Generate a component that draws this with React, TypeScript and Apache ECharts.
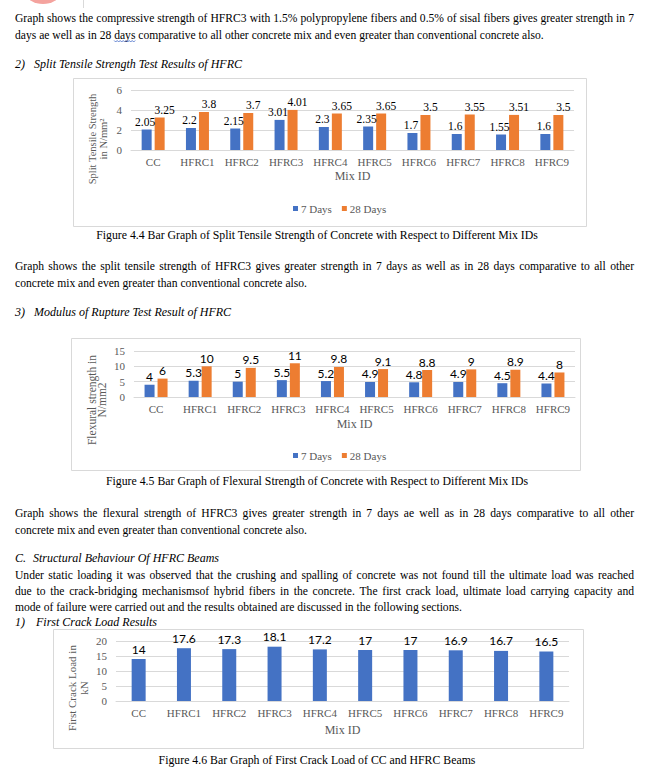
import React, { useEffect, useRef } from "react";
import * as echarts from "echarts";

// ---------- data ----------
const categories = ["CC", "HFRC1", "HFRC2", "HFRC3", "HFRC4", "HFRC5", "HFRC6", "HFRC7", "HFRC8", "HFRC9"];
const seriesNames = ["7 Days", "28 Days"];
const splitTensile7 = [2.05, 2.2, 2.15, 3.01, 2.3, 2.35, 1.7, 1.6, 1.55, 1.6];
const splitTensile28 = [3.25, 3.8, 3.7, 4.01, 3.65, 3.65, 3.5, 3.55, 3.51, 3.5];
const flexural7 = [4, 5.3, 5, 5.5, 5.2, 4.9, 4.8, 4.9, 4.5, 4.4];
const flexural28 = [6, 10, 9.5, 11, 9.8, 9.1, 8.8, 9, 8.9, 8];
const firstCrack = [14, 17.6, 17.3, 18.1, 17.2, 17, 17, 16.9, 16.7, 16.5];

// ---------- document text ----------
const para1 = [
  "Graph shows the compressive strength of HFRC3 with 1.5% polypropylene fibers and 0.5% of sisal fibers gives greater strength in 7",
  "days ae well as in 28 days comparative to all other concrete mix and even greater than conventional concrete also.",
];
const para2 = [
  "Graph shows the split tensile strength of HFRC3 gives greater strength in 7 days as well as in 28 days comparative to all other",
  "concrete mix and even greater than conventional concrete also.",
];
const para3 = [
  "Graph shows the flexural strength of HFRC3 gives greater strength in 7 days ae well as in 28 days comparative to all other",
  "concrete mix and even greater than conventional concrete also.",
];
const para4 = [
  "Under static loading it was observed that the crushing and spalling of concrete was not found till the ultimate load was reached",
  "due to the crack-bridging mechanismsof hybrid fibers in the concrete. The first crack load, ultimate load carrying capacity and",
  "mode of failure were carried out and the results obtained are discussed in the following sections.",
];
const headings = [
  { num: "2)", title: "Split Tensile Strength Test Results of HFRC" },
  { num: "3)", title: "Modulus of Rupture Test Result of HFRC" },
  { num: "C.", title: "Structural Behaviour Of HFRC Beams" },
  { num: "1)", title: "First Crack Load Results" },
];
const captions = [
  "Figure 4.4 Bar Graph of Split Tensile Strength of Concrete with Respect to Different Mix IDs",
  "Figure 4.5 Bar Graph of Flexural Strength of Concrete with Respect to Different Mix IDs",
  "Figure 4.6 Bar Graph of First Crack Load of CC and HFRC Beams",
];
const yAxisNames = [
  "Split Tensile Strength\nin N/mm\u00B2",
  "Flexural strength in\nN/mm2",
  "First Crack Load in\nkN",
];
const xAxisName = "Mix ID";

const SERIF = '"Liberation Serif", "Times New Roman", serif';
const SANS = 'Lato, "Liberation Sans", sans-serif';
const BODY = 11.6;
const HEAD = 12;
const LEFT = 15;
const RIGHT = 634;
const BLUE = "#4472C4";
const ORANGE = "#ED7D31";
const GRID = "#d9d9d9";
const AXIS_TEXT = "#595959";

let ctx: CanvasRenderingContext2D | null = null;
function measure(text: string, size: number, italic = false) {
  if (!ctx) ctx = document.createElement("canvas").getContext("2d");
  ctx!.font = `${italic ? "italic " : ""}${size}px "Liberation Serif"`;
  return ctx!.measureText(text).width;
}

function textEl(text: string, x: number, y: number, opts: any = {}) {
  return {
    type: "text",
    silent: true,
    x,
    y,
    rotation: opts.rotation || 0,
    style: {
      text,
      fill: opts.fill || "#000",
      fontFamily: opts.fontFamily || SERIF,
      fontSize: opts.fontSize || BODY,
      fontStyle: opts.italic ? "italic" : "normal",
      align: opts.align || "left",
      verticalAlign: "middle",
      lineHeight: opts.lineHeight,
    },
  };
}

function lineEls(text: string, y: number, justify: boolean) {
  if (!justify) return [textEl(text, LEFT, y)];
  const words = text.split(" ");
  const widths = words.map((w) => measure(w, BODY));
  const total = widths.reduce((a, b) => a + b, 0);
  const gap = (RIGHT - LEFT - total) / (words.length - 1);
  let x = LEFT;
  return words.map((w, i) => {
    const el = textEl(w, x, y);
    x += widths[i] + gap;
    return el;
  });
}

function paraEls(lines: string[], ys: number[], justifyCount: number) {
  const out: any[] = [];
  lines.forEach((l, i) => out.push(...lineEls(l, ys[i], i < justifyCount)));
  return out;
}

function headingEls(h: { num: string; title: string }, y: number, titleX: number) {
  return [
    textEl(h.num, LEFT, y, { italic: true, fontSize: HEAD }),
    textEl(h.title, titleX, y, { italic: true, fontSize: HEAD }),
  ];
}

function boxEl(x0: number, y0: number, x1: number, y1: number) {
  return {
    type: "rect",
    silent: true,
    shape: { x: x0 + 0.5, y: y0 + 0.5, width: x1 - x0, height: y1 - y0 },
    style: { fill: "none", stroke: GRID, lineWidth: 1 },
  };
}

function squiggle(x0: number, x1: number, y: number) {
  const pts: number[][] = [];
  let up = true;
  for (let x = x0; x <= x1; x += 1.5) {
    pts.push([x, up ? y : y + 1.5]);
    up = !up;
  }
  return { type: "polyline", silent: true, shape: { points: pts }, style: { stroke: "#3a62c4", lineWidth: 0.8, fill: "none" } };
}

function buildGraphic() {
  const els: any[] = [];
  // top-left decoration
  els.push({ type: "circle", silent: true, shape: { cx: 43, cy: -20, r: 24 }, style: { fill: "#f4a39e" } });
  els.push({ type: "line", silent: true, shape: { x1: 83.5, y1: 0, x2: 83.5, y2: 8 }, style: { stroke: GRID } });

  els.push(...paraEls(para1, [18, 35], 1));
  // spell-check squiggle under second "days"
  const pre = measure("days ae well as in 28 ", BODY);
  const dw = measure("days", BODY);
  els.push(squiggle(LEFT + pre, LEFT + pre + dw, 40.5));
  els.push(...headingEls(headings[0], 64, 34));

  els.push(boxEl(73, 78, 586, 226));
  els.push(textEl(captions[0], 317, 235, { align: "center", fontSize: 11.8 }));
  els.push(...paraEls(para2, [266, 283], 1));
  els.push(...headingEls(headings[1], 312, 34));

  els.push(boxEl(71, 338, 580, 470));
  els.push(textEl(captions[1], 317, 481, { align: "center", fontSize: 11.8 }));
  els.push(...paraEls(para3, [513, 530], 1));
  els.push(...headingEls(headings[2], 558, 33));
  els.push(...paraEls(para4, [575, 591, 607], 2));
  els.push(...headingEls(headings[3], 622, 36));

  els.push(boxEl(53, 629, 583, 748));
  els.push(textEl(captions[2], 317, 760, { align: "center", fontSize: 11.8 }));

  // y axis titles (rotated)
  els.push(textEl(yAxisNames[0], 98, 139, { rotation: Math.PI / 2, align: "center", fontSize: 10.5, lineHeight: 10.5, fill: AXIS_TEXT }));
  els.push(textEl(yAxisNames[1], 97, 400, { rotation: Math.PI / 2, align: "center", fontSize: 11.5, lineHeight: 10.5, fill: AXIS_TEXT }));
  els.push(textEl(yAxisNames[2], 78, 688, { rotation: Math.PI / 2, align: "center", fontSize: 11, lineHeight: 11.5, fill: AXIS_TEXT }));
  return els;
}

function xAxis(gridIndex: number, nameGap: number) {
  return {
    gridIndex,
    type: "category",
    data: categories,
    axisLine: { lineStyle: { color: GRID } },
    axisTick: { show: false },
    axisLabel: { interval: 0, margin: 6, fontFamily: SERIF, fontSize: 11, color: AXIS_TEXT },
    name: xAxisName,
    nameLocation: "middle",
    nameGap,
    nameTextStyle: { fontFamily: SERIF, fontSize: 12, color: AXIS_TEXT },
  };
}

function yAxis(gridIndex: number, max: number, interval: number) {
  return {
    gridIndex,
    type: "value",
    min: 0,
    max,
    interval,
    axisLine: { show: false },
    axisTick: { show: false },
    axisLabel: { margin: 9, fontFamily: SERIF, fontSize: 11, color: AXIS_TEXT },
    splitLine: { lineStyle: { color: GRID, width: 1 } },
  };
}

function barSeries(name: string, data: number[], idx: number, color: string, width: number, labelFont: any, dx = 0, dist = 2) {
  return {
    type: "bar",
    name,
    data,
    xAxisIndex: idx,
    yAxisIndex: idx,
    barWidth: width,
    barGap: "30%",
    itemStyle: { color },
    label: { show: true, position: "top", distance: dist, offset: [dx, 0], color: "#000", ...labelFont },
  };
}

function legend(top: number) {
  return {
    data: seriesNames,
    left: 288,
    top,
    icon: "rect",
    itemWidth: 5,
    itemHeight: 5,
    itemGap: 10,
    selectedMode: false,
    textStyle: { fontFamily: SERIF, fontSize: 11, color: AXIS_TEXT, padding: [0, 0, 0, -2] },
  };
}

export default function App() {
  const ref = useRef<HTMLDivElement>(null);
  useEffect(() => {
    const chart = echarts.init(ref.current!, null, { renderer: "svg" });
    const serifLabel = { fontFamily: SERIF, fontSize: 11.5 };
    const sansLabel = { fontFamily: SANS, fontSize: 12 };
    chart.setOption({
      animation: false,
      backgroundColor: "#fff",
      grid: [
        { left: 131, right: 75, top: 90, height: 60 },
        { left: 134, right: 74, top: 351, height: 46 },
        { left: 116, right: 80, top: 641, height: 60 },
      ],
      xAxis: [xAxis(0, 20), xAxis(1, 21), xAxis(2, 23)],
      yAxis: [yAxis(0, 6, 2), yAxis(1, 15, 5), yAxis(2, 20, 5)],
      legend: [legend(198), legend(445)],
      series: [
        barSeries(seriesNames[0], splitTensile7, 0, BLUE, 10, serifLabel, -1.5),
        barSeries(seriesNames[1], splitTensile28, 0, ORANGE, 10, serifLabel, 5),
        barSeries(seriesNames[0], flexural7, 1, BLUE, 10, sansLabel),
        barSeries(seriesNames[1], flexural28, 1, ORANGE, 10, sansLabel),
        barSeries("First Crack Load", firstCrack, 2, BLUE, 14, sansLabel, 0, 4),
      ],
      graphic: { elements: buildGraphic() },
    });
    return () => chart.dispose();
  }, []);
  return <div ref={ref} style={{ position: "absolute", left: 0, top: 0, width: 649, height: 770 }} />;
}
